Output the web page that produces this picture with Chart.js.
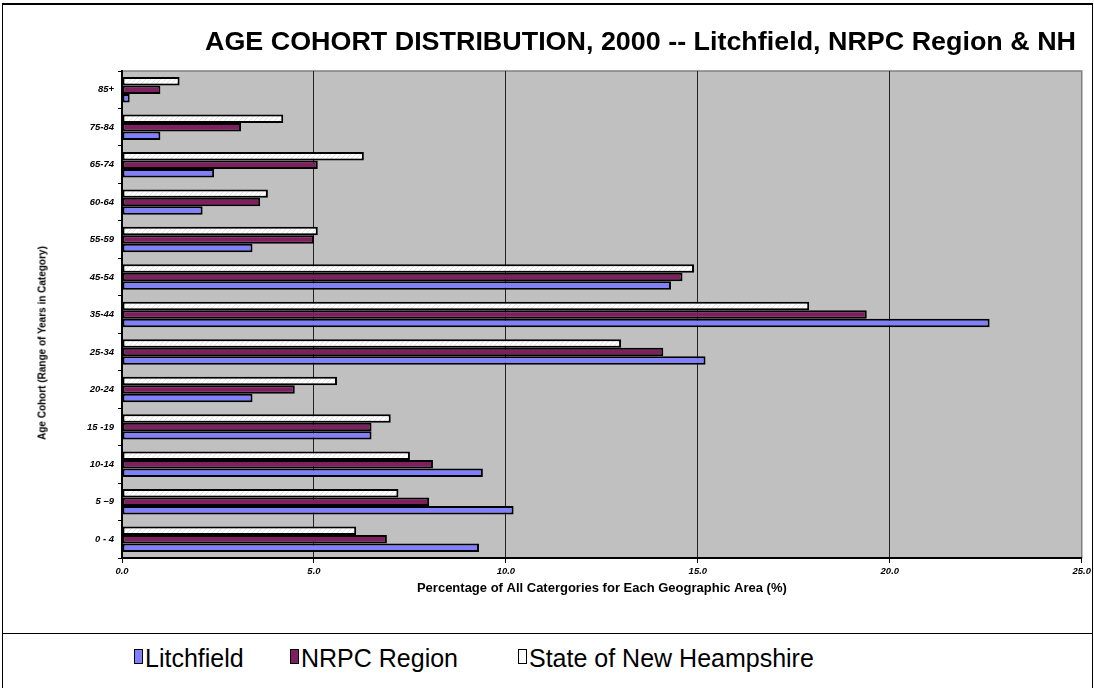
<!DOCTYPE html>
<html>
<head>
<meta charset="utf-8">
<title>Age Cohort Distribution, 2000</title>
<script src="https://cdn.jsdelivr.net/npm/chart.js@4.4.0/dist/chart.umd.min.js"></script>
<style>
  html, body { margin: 0; padding: 0; background: #fff; }
  #wrap { position: relative; width: 1094px; height: 688px; overflow: hidden; font-family: 'Liberation Sans', Arial, sans-serif; color: #000; }
  #frame { position: absolute; left: 2px; top: 3px; width: 1091px; height: 720px; border: 1px solid #000; border-top-width: 2px; box-sizing: border-box; }
  #legendBox { position: absolute; left: 2px; top: 633px; width: 1091px; height: 80px; border: 1px solid #000; box-sizing: border-box; background: #fff; }
  #chart { position: absolute; left: 0; top: 0; }
  .title { position: absolute; left: 205px; top: 29px; font-weight: bold; font-size: 25px; line-height: 25px; white-space: nowrap; transform-origin: 0 50%; }
  .ytitle { position: absolute; left: 41.5px; top: 343px; font-weight: bold; font-size: 10px; white-space: nowrap; transform: translate(-50%, -50%) rotate(-90deg); }
  .lg-item { position: absolute; top: 646px; font-size: 25px; line-height: 25px; white-space: nowrap; }
  .lg-key { position: absolute; left: 0; top: 3px; width: 9px; height: 15px; border: 1px solid #000; box-sizing: border-box; }
  .lg-text { position: absolute; left: 11px; top: 0; }
</style>
</head>
<body>
<div id="wrap">
  <div id="frame"></div>
  <canvas id="chart" width="1094" height="688"></canvas>
  <div class="title" id="title">AGE COHORT DISTRIBUTION, 2000 -- Litchfield, NRPC Region &amp; NH</div>
  <div class="ytitle">Age Cohort (Range of Years in Category)</div>
  <div id="legendBox"></div>
</div>
<script>
// Age cohorts, top to bottom
const ageGroups = ['85+', '75-84', '65-74', '60-64', '55-59', '45-54', '35-44', '25-34', '20-24', '15 -19', '10-14', '5 \u20139', '0 - 4'];

// Percent of population in each cohort
const litchfield = [0.2, 1.0, 2.4, 2.1, 3.4, 14.3, 22.6, 15.2, 3.4, 6.5, 9.4, 10.2, 9.3];
const nrpcRegion = [1.0, 3.1, 5.1, 3.6, 5.0, 14.6, 19.4, 14.1, 4.5, 6.5, 8.1, 8.0, 6.9];
const stateNH    = [1.5, 4.2, 6.3, 3.8, 5.1, 14.9, 17.9, 13.0, 5.6, 7.0, 7.5, 7.2, 6.1];

const seriesNames = ['Litchfield', 'NRPC Region', 'State of New Heampshire'];
const xTicks = [0, 5, 10, 15, 20, 25];

(() => {
    // stretch the title to the width it has in the original
    const titleEl = document.getElementById('title');
    const titleW = titleEl.getBoundingClientRect().width;
    if (titleW > 0) titleEl.style.transform = `scaleX(${871 / titleW})`;

    // white bars carry a faint diagonal hatch
    const hatch = document.createElement('canvas');
    hatch.width = 5; hatch.height = 5;
    const hctx = hatch.getContext('2d');
    hctx.fillStyle = '#ffffff';
    hctx.fillRect(0, 0, 5, 5);
    hctx.strokeStyle = '#e2e2e2';
    hctx.lineWidth = 1;
    hctx.beginPath();
    hctx.moveTo(-1, 6); hctx.lineTo(6, -1);
    hctx.stroke();

    const canvas = document.getElementById('chart');
    const ctx = canvas.getContext('2d');
    const hatchPattern = ctx.createPattern(hatch, 'repeat');

    const colors = ['#8080ff', '#7f1f5f', hatchPattern];
    const swatches = ['#8080ff', '#7f1f5f', '#ffffff'];

    // plot area fill + grey frame
    const plotBg = {
        id: 'plotBg',
        beforeDraw(chart) {
            const { ctx, chartArea: a } = chart;
            if (!a) return;
            ctx.save();
            ctx.fillStyle = '#c0c0c0';
            ctx.fillRect(a.left, a.top, a.right - a.left, a.bottom - a.top);
            ctx.strokeStyle = '#808080';
            ctx.lineWidth = 1.5;
            ctx.strokeRect(a.left, a.top, a.right - a.left, a.bottom - a.top);
            ctx.restore();
        }
    };

    // bars drawn top-to-bottom in group: NH, NRPC, Litchfield
    const series = [litchfield, nrpcRegion, stateNH];
    const datasets = [2, 1, 0].map(i => ({
        label: seriesNames[i],
        data: series[i],
        backgroundColor: colors[i],
        borderColor: '#000000',
        borderWidth: 2,
        borderSkipped: false,
        categoryPercentage: 0.68,
        barPercentage: 1.0
    }));

    new Chart(ctx, {
        type: 'bar',
        data: { labels: ageGroups, datasets },
        options: {
            indexAxis: 'y',
            responsive: false,
            animation: false,
            layout: { padding: { top: 71, bottom: 90, left: 34, right: 10 } },
            plugins: { legend: { display: false }, title: { display: false }, tooltip: { enabled: false } },
            scales: {
                x: {
                    min: xTicks[0],
                    max: xTicks[xTicks.length - 1],
                    afterBuildTicks(scale) { scale.ticks = xTicks.map(v => ({ value: v })); },
                    afterFit(scale) { scale.height = 40; },
                    grid: {
                        color: ctx => (ctx.tick && ctx.tick.value === 25 ? '#808080' : '#222222'),
                        lineWidth: 1,
                        drawTicks: true,
                        tickLength: 5,
                        tickColor: '#000000'
                    },
                    border: { display: true, color: '#000000', width: 2 },
                    ticks: {
                        color: '#000000',
                        padding: 3,
                        maxRotation: 0,
                        font: { family: 'Liberation Sans', size: 9.5, weight: 'bold', style: 'italic' },
                        callback: v => Number(v).toFixed(1)
                    },
                    title: {
                        display: true,
                        text: 'Percentage of All Catergories for Each Geographic Area (%)',
                        color: '#000000',
                        padding: { top: 0, bottom: 2 },
                        font: { family: 'Liberation Sans', size: 13, weight: 'bold' }
                    }
                },
                y: {
                    afterFit(scale) { scale.width = 88; },
                    grid: {
                        drawOnChartArea: false,
                        drawTicks: true,
                        offset: true,
                        tickLength: 4,
                        color: '#000000'
                    },
                    border: { display: true, color: '#000000', width: 2 },
                    ticks: {
                        color: '#000000',
                        padding: 4,
                        font: { family: 'Liberation Sans', size: 9.5, weight: 'bold', style: 'italic' }
                    }
                }
            }
        },
        plugins: [plotBg]
    });

    // legend row inside the bottom box
    const legendLeft = [134, 290, 518];
    const wrap = document.getElementById('wrap');
    seriesNames.forEach((name, i) => {
        const item = document.createElement('div');
        item.className = 'lg-item';
        item.style.left = legendLeft[i] + 'px';
        item.innerHTML = `<span class="lg-key" style="background:${swatches[i]}"></span><span class="lg-text">${name}</span>`;
        wrap.appendChild(item);
    });
})();
</script>
</body>
</html>
